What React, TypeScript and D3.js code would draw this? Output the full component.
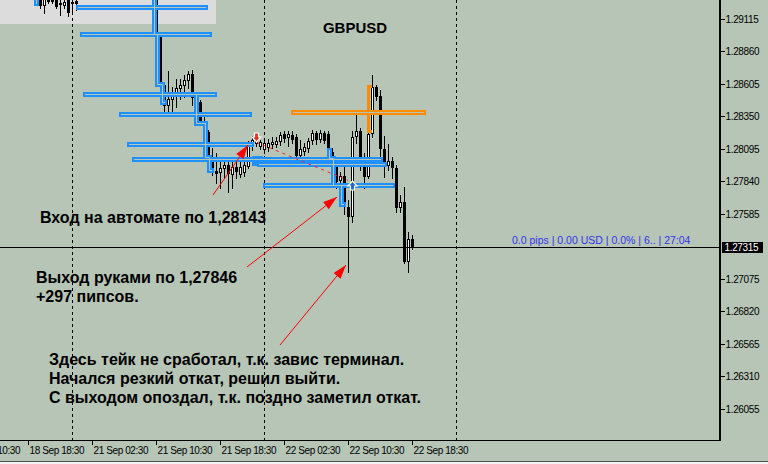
import React from "react";
import * as d3 from "d3";

// GBPUSD, M30 bars. Slot 0 = 18 Sep 15:00; each slot is one 30-minute bar.
// Rows: [slot, open, high, low, close]
type Bar = [number, number, number, number, number];

const bars: Bar[] = [
  [10, 1.29284, 1.29307, 1.29197, 1.29213],
  [11, 1.29213, 1.293, 1.29158, 1.29276],
  [12, 1.2926, 1.29284, 1.29237, 1.29245],
  [13, 1.29245, 1.29276, 1.29237, 1.2926],
  [14, 1.29276, 1.29292, 1.29197, 1.29205],
  [15, 1.29237, 1.29276, 1.29143, 1.29221],
  [16, 1.29213, 1.2926, 1.29197, 1.29245],
  [17, 1.29268, 1.29284, 1.29135, 1.29158],
  [18, 1.29229, 1.29284, 1.2915, 1.29245],
  [19, 1.29253, 1.29292, 1.29182, 1.29229],
  [39, 1.29346, 1.2937, 1.28962, 1.2897],
  [40, 1.28978, 1.28986, 1.28585, 1.28593],
  [41, 1.28593, 1.28601, 1.2835, 1.28429],
  [42, 1.28429, 1.28703, 1.28374, 1.28483],
  [43, 1.28476, 1.28578, 1.28358, 1.28507],
  [44, 1.28499, 1.2864, 1.28421, 1.2857],
  [45, 1.28562, 1.2864, 1.28483, 1.28593],
  [46, 1.28585, 1.28672, 1.28499, 1.28633],
  [47, 1.28625, 1.28703, 1.2857, 1.2868],
  [48, 1.2868, 1.28711, 1.28437, 1.28491],
  [49, 1.28507, 1.28531, 1.28437, 1.2846],
  [50, 1.2846, 1.28476, 1.2828, 1.28295],
  [51, 1.28295, 1.28358, 1.28162, 1.28217],
  [52, 1.28225, 1.2824, 1.27989, 1.28028],
  [53, 1.28028, 1.28099, 1.27887, 1.27911],
  [54, 1.27919, 1.2806, 1.27824, 1.27895],
  [55, 1.27903, 1.28005, 1.27785, 1.27942],
  [56, 1.27934, 1.28021, 1.27864, 1.27966],
  [57, 1.27966, 1.28021, 1.27754, 1.27895],
  [58, 1.27887, 1.28005, 1.27785, 1.2795],
  [59, 1.2795, 1.28021, 1.27864, 1.27911],
  [60, 1.27887, 1.28005, 1.27872, 1.2795],
  [61, 1.27903, 1.28005, 1.27879, 1.27966],
  [62, 1.2795, 1.28154, 1.27942, 1.28138],
  [63, 1.28107, 1.28193, 1.28083, 1.28162],
  [64, 1.2813, 1.28185, 1.28115, 1.28154],
  [65, 1.28107, 1.28162, 1.28091, 1.28146],
  [66, 1.28083, 1.28178, 1.2806, 1.28138],
  [67, 1.28099, 1.2817, 1.28075, 1.28138],
  [68, 1.28122, 1.28185, 1.28099, 1.28146],
  [69, 1.28122, 1.28185, 1.28107, 1.28154],
  [70, 1.28146, 1.28225, 1.28122, 1.28201],
  [71, 1.28209, 1.28232, 1.28146, 1.2817],
  [72, 1.28178, 1.28232, 1.28115, 1.28209],
  [73, 1.28201, 1.28232, 1.28138, 1.28162],
  [74, 1.28185, 1.28209, 1.27974, 1.28036],
  [75, 1.28036, 1.28162, 1.28021, 1.28091],
  [76, 1.28068, 1.28138, 1.28044, 1.28107],
  [77, 1.28091, 1.28178, 1.28068, 1.28154],
  [78, 1.28154, 1.2824, 1.2813, 1.28217],
  [79, 1.28217, 1.28232, 1.2813, 1.28162],
  [80, 1.28162, 1.2824, 1.28146, 1.28217],
  [81, 1.28217, 1.28232, 1.28138, 1.28154],
  [82, 1.28209, 1.28232, 1.27981, 1.28044],
  [83, 1.28068, 1.28099, 1.27887, 1.27958],
  [84, 1.27958, 1.28005, 1.27785, 1.27832],
  [85, 1.2784, 1.27911, 1.27801, 1.27879],
  [86, 1.27879, 1.27981, 1.27581, 1.27636],
  [87, 1.27636, 1.27691, 1.27126, 1.27558],
  [88, 1.27558, 1.28232, 1.27518, 1.28185],
  [89, 1.28185, 1.28389, 1.28138, 1.28232],
  [90, 1.28232, 1.28256, 1.27926, 1.2795],
  [91, 1.27958, 1.2806, 1.27785, 1.27872],
  [92, 1.27872, 1.28232, 1.27864, 1.28209],
  [93, 1.28209, 1.28672, 1.28185, 1.28578],
  [94, 1.28578, 1.28593, 1.28476, 1.28499],
  [95, 1.28507, 1.28554, 1.28028, 1.28091],
  [96, 1.28091, 1.28193, 1.27872, 1.27966],
  [97, 1.27958, 1.2813, 1.27926, 1.27997],
  [98, 1.27997, 1.28028, 1.27864, 1.27942],
  [99, 1.27942, 1.27966, 1.27597, 1.27628],
  [100, 1.27628, 1.2773, 1.27597, 1.27675],
  [101, 1.27675, 1.27793, 1.27197, 1.27205],
  [102, 1.27205, 1.2744, 1.27126, 1.27385],
  [103, 1.27385, 1.27416, 1.27308, 1.27315],
];

const lastPrice = 1.27315;
const entryPrice = 1.28143;
const exitPrice = 1.27846;
const entrySlot = 64;
const exitSlot = 88;
const tradeLineEndSlot = 87;

// Horizontal level boxes: [fromSlot, toSlot, price]
const blueLevels: [number, number, number][] = [
  [19, 52, 1.29202],
  [20, 53, 1.2899],
  [20.75, 54.25, 1.28519],
  [29.75, 63, 1.28362],
  [31.75, 63.5, 1.28126],
  [33, 95.75, 1.28009],
  [64.25, 96.75, 1.2797],
  [65.75, 98.75, 1.27808],
];
const orangeLevels: [number, number, number][] = [[72.75, 106.5, 1.28378]];

// Step traces connecting the levels: [slot, price] vertices
const blueSteps: [number, number][][] = [
  [[9.125, 1.29339], [9.125, 1.29233]],
  [[38.55, 1.29299], [38.55, 1.2899], [39.375, 1.2899], [39.375, 1.28601], [40.625, 1.28601], [40.625, 1.28452], [41, 1.28452]],
  [[49.125, 1.28519], [49.125, 1.28295], [51.25, 1.28295], [51.25, 1.28028], [52.375, 1.28028], [52.375, 1.27926], [52.875, 1.27926]],
  [[82.375, 1.28083], [82.375, 1.28013], [83.375, 1.28013], [83.375, 1.27808]],
  [[85.25, 1.27808], [85.25, 1.27656], [85.875, 1.27656]],
];
const orangeSteps: [number, number][][] = [
  [[92.75, 1.28585], [92.125, 1.28585], [92.125, 1.28228], [92.625, 1.28228]],
];
const blueBlock: [number, number, number, number] = [63, 65.75, 1.28036, 1.27958];

// Callout arrows: [tailSlot, tailPrice, tipSlot, tipPrice]
const callouts: [number, number, number, number][] = [
  [53.25, 1.2773, 62, 1.28122],
  [61.75, 1.27165, 84.25, 1.27714],
  [70, 1.26553, 86.5, 1.27181],
];

const priceTicks = [1.29115, 1.2886, 1.28605, 1.2835, 1.28095, 1.2784, 1.27585, 1.27075, 1.2682, 1.26565, 1.2631, 1.26055];
const timeTickSlots = [-9, 7, 23, 39, 55, 71, 87, 103];
const timeTickLabels = ["18 Sep 10:30", "18 Sep 18:30", "21 Sep 02:30", "21 Sep 10:30", "21 Sep 18:30", "22 Sep 02:30", "22 Sep 10:30", "22 Sep 18:30"];
const daySeparatorSlots = [18, 66, 114];

const symbol = "GBPUSD";
const infoLine = "0.0 pips | 0.00 USD | 0.0% | 6.. | 27:04";
const noteText = [
  "Вход на автомате по 1,28143",
  "Выход руками по 1,27846",
  "+297 пипсов.",
  "Здесь тейк не сработал, т.к. завис терминал.",
  "Начался резкий откат, решил выйти.",
  "С выходом опоздал, т.к. поздно заметил откат.",
];

const BG = "#b6c5b6";
const BLUE = "#1e90ff";
const ORANGE = "#ff8c00";
const PLOT_W = 720;
const PLOT_H = 440;
const AXIS_FONT = "'Liberation Sans', Arial, sans-serif";

const crisp = (v: number) => Math.round(v - 0.5) + 0.5;

export default function App() {
  const x = d3.scaleLinear().domain([0, 180]).range([0, 720]);
  const y = d3.scaleLinear().domain([1.26055, 1.29115]).range([408.5, 18.5]);
  const line = d3.line<[number, number]>().x((d) => d[0]).y((d) => d[1]);

  // A hollow (double) line: wide coloured stroke with a thin background core.
  const hollow = (pts: [number, number][]) => {
    const n = pts.length;
    const ext = (a: [number, number], b: [number, number]): [number, number] => {
      const dx = a[0] - b[0];
      const dy = a[1] - b[1];
      const len = Math.hypot(dx, dy) || 1;
      return [a[0] + (dx / len) * 0.5, a[1] + (dy / len) * 0.5];
    };
    const inner = pts.slice();
    if (n > 1) {
      inner[0] = ext(pts[0], pts[1]);
      inner[n - 1] = ext(pts[n - 1], pts[n - 2]);
    }
    return { outer: line(pts) as string, inner: line(inner) as string };
  };

  const levelPts = (l: [number, number, number]): [number, number][] => {
    const yc = crisp(y(l[2]));
    return [
      [x(l[0]) + 2.5, yc],
      [x(l[1]) - 2.5, yc],
    ];
  };
  const stepPts = (s: [number, number][]): [number, number][] =>
    s.map(([sl, p]) => [crisp(x(sl)), crisp(y(p))] as [number, number]);

  const blueShapes = [...blueLevels.map(levelPts), ...blueSteps.map(stepPts)].map(hollow);
  const orangeLevelShapes = orangeLevels.map(levelPts).map(hollow);

  const arrowHead = (tx: number, ty: number, fx: number, fy: number) => {
    const a = Math.atan2(ty - fy, tx - fx);
    const L = 14;
    const w = 4.5;
    const bx = tx - Math.cos(a) * L;
    const by = ty - Math.sin(a) * L;
    const nx = -Math.sin(a) * w;
    const ny = Math.cos(a) * w;
    return `M${tx},${ty}L${bx + nx},${by + ny}L${bx - nx},${by - ny}Z`;
  };

  const ex = x(entrySlot) + 0.5;
  const eTip = Math.round(y(entryPrice));
  const xx = x(exitSlot) + 0.5;
  const xTip = Math.round(y(exitPrice)) + 1;

  return (
    <svg
      width={768}
      height={464}
      style={{ position: "absolute", left: 0, top: 0, display: "block" }}
      fontFamily={AXIS_FONT}
    >
      <defs>
        <clipPath id="plot">
          <rect x={0} y={0} width={PLOT_W} height={PLOT_H} />
        </clipPath>
      </defs>
      <rect x={0} y={0} width={768} height={464} fill={BG} />
      <rect x={0} y={461} width={768} height={1} fill="#505050" />
      <rect x={0} y={462} width={768} height={2} fill="#f2f2f2" />

      <g clipPath="url(#plot)">
        {/* info panel */}
        <rect x={0} y={0} width={216} height={24} fill="#dcdcdc" />

        {/* day separators */}
        {daySeparatorSlots.map((s) => (
          <line key={s} x1={x(s) + 0.5} x2={x(s) + 0.5} y1={0} y2={PLOT_H} stroke="#000" strokeDasharray="3,3" />
        ))}

        {/* candles */}
        {bars.map(([s, o, h, l, c]) => {
          const cx = x(s);
          const yo = Math.round(y(o));
          const yc = Math.round(y(c));
          const yh = Math.round(y(h));
          const yl = Math.round(y(l));
          const up = c >= o;
          return (
            <g key={s}>
              <line x1={cx + 0.5} x2={cx + 0.5} y1={yh} y2={yl + 1} stroke="#000" />
              {up ? (
                <rect x={cx - 0.5} y={yc + 0.5} width={2} height={Math.max(yo - yc - 1, 0)} fill="#fff" stroke="#000" />
              ) : (
                <rect x={cx - 1} y={yo} width={3} height={Math.max(yc - yo, 1)} fill="#000" />
              )}
            </g>
          );
        })}

        {/* level boxes and step traces */}
        {blueShapes.map((s, i) => (
          <path key={"bo" + i} d={s.outer} fill="none" stroke={BLUE} strokeWidth={5} strokeLinecap="square" strokeLinejoin="miter" />
        ))}
        <rect
          x={x(blueBlock[0])}
          y={Math.round(y(blueBlock[2]))}
          width={x(blueBlock[1]) - x(blueBlock[0])}
          height={Math.round(y(blueBlock[3])) - Math.round(y(blueBlock[2]))}
          fill={BLUE}
        />
        {blueShapes.map((s, i) => (
          <path key={"bi" + i} d={s.inner} fill="none" stroke={BG} strokeWidth={1} strokeLinecap="butt" strokeLinejoin="miter" />
        ))}
        {orangeSteps.map((s, i) => (
          <path key={"os" + i} d={line(stepPts(s)) as string} fill="none" stroke={ORANGE} strokeWidth={3} strokeLinecap="square" />
        ))}
        {orangeLevelShapes.map((s, i) => (
          <g key={"ol" + i}>
            <path d={s.outer} fill="none" stroke={ORANGE} strokeWidth={5} strokeLinecap="square" />
            <path d={s.inner} fill="none" stroke={BG} strokeWidth={1} />
          </g>
        ))}

        {/* bid line */}
        <line x1={0} x2={PLOT_W} y1={Math.floor(y(lastPrice)) + 0.5} y2={Math.floor(y(lastPrice)) + 0.5} stroke="#000" />

        {/* trade line */}
        <line
          x1={ex}
          y1={y(entryPrice)}
          x2={x(tradeLineEndSlot)}
          y2={y(exitPrice)}
          stroke="#ff2020"
          strokeDasharray="3,4"
        />

        {/* entry marker */}
        <path
          d={`M${ex - 2},${eTip - 9}h4v4h2.5l-4.5,5l-4.5,-5h2.5z`}
          fill="#e53020"
          stroke="#fff"
          strokeWidth={1.2}
        />
        {/* exit marker */}
        <path
          d={`M${xx},${xTip}l4.5,5h-2.5v4h-4v-4h-2.5z`}
          fill="#1f66c6"
          stroke="#fff"
          strokeWidth={1.2}
        />

        {/* callout arrows */}
        {callouts.map(([ts, tp, hs, hp], i) => {
          const x0 = x(ts), y0 = y(tp), x1 = x(hs), y1 = y(hp);
          return (
            <g key={"c" + i}>
              <line x1={x0} y1={y0} x2={x1} y2={y1} stroke="#ff0000" strokeWidth={1} />
              <path d={arrowHead(x1, y1, x0, y0)} fill="#ff0000" />
            </g>
          );
        })}
      </g>

      {/* title and notes */}
      <text x={355} y={33} textAnchor="middle" fontSize={15} fontWeight="bold" fill="#000">
        {symbol}
      </text>
      <g fontSize={16} fontWeight="bold" fill="#000">
        <text x={40} y={223}>{noteText[0]}</text>
        <text x={36} y={283}>{noteText[1]}</text>
        <text x={36} y={302}>{noteText[2]}</text>
        <text x={49} y={365}>{noteText[3]}</text>
        <text x={49} y={384}>{noteText[4]}</text>
        <text x={49} y={403}>{noteText[5]}</text>
      </g>
      <text x={512} y={244} fontSize={10.5} fill="#3333ee">
        {infoLine}
      </text>

      {/* frame */}
      <rect x={719} y={0} width={2} height={PLOT_H + 1} fill="#000" />
      <line x1={0} x2={721} y1={PLOT_H + 0.5} y2={PLOT_H + 0.5} stroke="#000" />

      {/* price axis */}
      <g fontSize={10} letterSpacing={-0.35} fill="#000">
        {priceTicks.map((p) => {
          const ty = Math.round(y(p)) + 0.5;
          return (
            <g key={p}>
              <line x1={721} x2={725} y1={ty} y2={ty} stroke="#000" />
              <text x={725.5} y={ty + 3.5}>{p.toFixed(5)}</text>
            </g>
          );
        })}
      </g>
      <rect x={722} y={Math.floor(y(lastPrice)) - 5} width={41} height={11} fill="#000" />
      <text x={724.5} y={Math.floor(y(lastPrice)) + 3.5} fontSize={10} letterSpacing={-0.35} fill="#fff">
        {lastPrice.toFixed(5)}
      </text>

      {/* time axis */}
      <g fontSize={10} letterSpacing={-0.4} fill="#000">
        {timeTickSlots.map((s, i) => {
          const tx = x(s) + 0.5;
          return (
            <g key={s}>
              <line x1={tx} x2={tx} y1={PLOT_H} y2={PLOT_H + 5} stroke="#000" />
              <text x={tx + 1} y={453.5}>{timeTickLabels[i]}</text>
            </g>
          );
        })}
      </g>
    </svg>
  );
}
